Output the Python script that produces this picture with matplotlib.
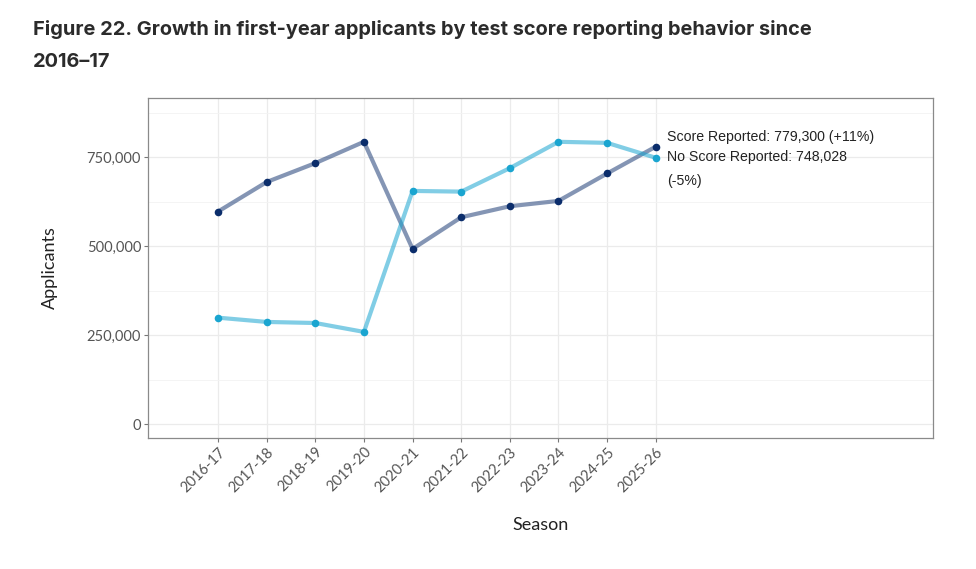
import matplotlib
matplotlib.use("Agg")
import matplotlib.pyplot as plt
from matplotlib.ticker import FuncFormatter, FixedLocator

seasons = ["2016-17", "2017-18", "2018-19", "2019-20", "2020-21",
           "2021-22", "2022-23", "2023-24", "2024-25", "2025-26"]
score_reported = [597000, 680000, 733000, 793000, 492000,
                  581000, 612000, 627000, 704000, 779300]
no_score_reported = [299000, 287000, 284000, 259000, 655000,
                     653000, 719000, 793000, 790000, 748028]
label_score = "Score Reported: 779,300 (+11%)"
label_noscore = "No Score Reported: 748,028\n(-5%)"
title = "Figure 22. Growth in first-year applicants by test score reporting behavior since\n2016\u201317"
y_ticks = [0, 250000, 500000, 750000]
y_minor = [125000, 375000, 625000, 875000]

W, H = 976, 569
fig = plt.figure(figsize=(W / 100, H / 100), dpi=100)
ax = fig.add_axes([148 / W, 1 - 438 / H, (933 - 148) / W, (438 - 98) / H])

x = list(range(len(seasons)))
dark_line = "#0b2d6b"
dark_pt = "#0b2d6b"
light_line = "#1aa5d0"
light_pt = "#1aa5d0"

ax.plot(x, score_reported, color=dark_line, alpha=0.5, lw=3.0, zorder=3,
        solid_capstyle="round")
ax.plot(x, no_score_reported, color=light_line, alpha=0.55, lw=3.0, zorder=3,
        solid_capstyle="round")
ax.scatter(x, score_reported, s=30, color=dark_pt, zorder=4, linewidths=0)
ax.scatter(x, no_score_reported, s=30, color=light_pt, zorder=4, linewidths=0)

ax.annotate(label_score, xy=(x[-1], score_reported[-1]), xytext=(11, 10),
            textcoords="offset pixels", ha="left", va="center",
            fontsize=10.2, family="Liberation Sans", color="#222222")
ax.annotate(label_noscore, xy=(x[-1], no_score_reported[-1]), xytext=(11, 8),
            textcoords="offset pixels", ha="left", va="top",
            fontsize=10.2, family="Liberation Sans", color="#222222",
            linespacing=1.97)

ax.set_xlim(-1.44, 14.7)
ax.set_ylim(-39000, 916000)
ax.set_xticks(x)
ax.set_xticklabels(seasons, rotation=45, ha="right", rotation_mode="anchor",
                   fontsize=10.5, family="Lato", color="#555555")
ax.set_yticks(y_ticks)
ax.yaxis.set_major_formatter(FuncFormatter(lambda v, p: f"{int(v):,}"))
ax.yaxis.set_minor_locator(FixedLocator(y_minor))
for lab in ax.get_yticklabels():
    lab.set_fontsize(10.5)
    lab.set_family("Lato")
    lab.set_color("#555555")

ax.grid(True, which="major", color="#ebebeb", lw=0.9, zorder=0)
ax.grid(True, which="minor", axis="y", color="#f3f3f3", lw=0.6, zorder=0)
ax.set_axisbelow(True)
for s in ax.spines.values():
    s.set_color("#8a8a8a")
    s.set_linewidth(0.9)
ax.tick_params(axis="both", which="major", length=3, color="#777777", width=0.8, pad=2)
ax.tick_params(axis="y", which="minor", length=0)

ax.set_xlabel("Season", fontsize=13, family="Lato", color="#222222")
ax.set_ylabel("Applicants", fontsize=13, family="Lato", color="#222222")
ax.xaxis.set_label_coords((541 - 148) / (933 - 148), -(525 - 438) / (438 - 98))
ax.yaxis.set_label_coords(-(148 - 50) / (933 - 148), 0.5)
ax.xaxis.label.set_va("center")
ax.yaxis.label.set_va("center")

fig.text(33 / W, 1 - 20 / H, title, ha="left", va="top", fontsize=14.4,
         family="Inter", fontweight="bold", color="#2b2b2b", linespacing=2.0)

fig.savefig("out.png", dpi=100, facecolor="white")
